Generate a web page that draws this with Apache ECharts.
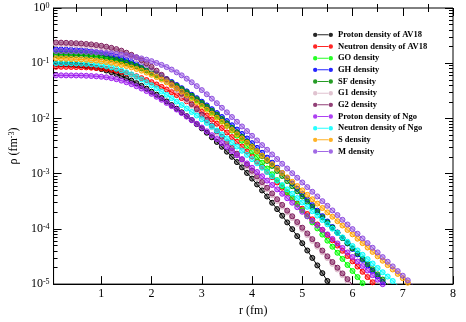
<!DOCTYPE html>
<html>
<head>
<meta charset="utf-8">
<script src="https://cdn.jsdelivr.net/npm/echarts@6/dist/echarts.min.js"></script>
<style>
html, body { margin: 0; padding: 0; background: #fff; }
#chart { width: 466px; height: 322px; }
</style>
</head>
<body>
<div id="chart"></div>
<script>
// radial mesh (fm), one point every 0.1 fm
const radius = [0.1,0.2,0.3,0.4,0.5,0.6,0.7,0.8,0.9,1.0,1.1,1.2,1.3,1.4,1.5,1.6,1.7,1.8,1.9,2.0,
  2.1,2.2,2.3,2.4,2.5,2.6,2.7,2.8,2.9,3.0,3.1,3.2,3.3,3.4,3.5,3.6,3.7,3.8,3.9,4.0,
  4.1,4.2,4.3,4.4,4.5,4.6,4.7,4.8,4.9,5.0,5.1,5.2,5.3,5.4,5.5,5.6,5.7,5.8,5.9,6.0,
  6.1,6.2,6.3,6.4,6.5,6.6,6.7,6.8,6.9,7.0,7.1,7.2];

// densities (fm^-3)
const protonAV18 = [0.0975,0.0970,0.0962,0.0948,0.0931,0.0912,0.0887,0.0859,0.0824,0.0783,
  0.0738,0.0689,0.0637,0.0585,0.0533,0.0483,0.0435,0.0389,0.0346,0.0305,
  0.0269,0.0234,0.0203,0.0175,0.0150,0.0129,0.0110,0.00935,0.00788,0.00661,
  0.00551,0.00456,0.00375,0.00307,0.00250,0.00202,0.00162,0.00130,0.00103,8.13e-4,
  6.38e-4,4.97e-4,3.86e-4,2.97e-4,2.28e-4,1.73e-4,1.31e-4,9.88e-5,7.39e-5,5.50e-5,
  4.06e-5,2.98e-5,2.18e-5,1.58e-5,1.14e-5,8.19e-6];
const neutronAV18 = [0.0861,0.0861,0.0859,0.0857,0.0853,0.0848,0.0841,0.0831,0.0819,0.0805,
  0.0787,0.0763,0.0734,0.0700,0.0662,0.0622,0.0580,0.0537,0.0495,0.0453,
  0.0412,0.0372,0.0334,0.0299,0.0265,0.0234,0.0205,0.0178,0.0154,0.0132,
  0.0113,0.00954,0.00802,0.00671,0.00557,0.00460,0.00378,0.00310,0.00252,0.00205,
  0.00165,0.00133,0.00108,8.64e-4,6.93e-4,5.56e-4,4.46e-4,3.58e-4,2.87e-4,2.31e-4,
  1.86e-4,1.49e-4,1.20e-4,9.63e-5,7.73e-5,6.22e-5,4.99e-5,4.01e-5,3.23e-5,2.59e-5,
  2.08e-5,1.67e-5,1.34e-5,1.08e-5,8.68e-6];
const goDensity = [0.158,0.158,0.158,0.157,0.156,0.154,0.151,0.147,0.143,0.138,
  0.132,0.126,0.119,0.112,0.104,0.0963,0.0887,0.0811,0.0738,0.0667,
  0.0600,0.0537,0.0478,0.0423,0.0373,0.0327,0.0285,0.0246,0.0212,0.0181,
  0.0153,0.0129,0.0108,0.00894,0.00736,0.00602,0.00489,0.00395,0.00317,0.00252,
  0.00200,0.00158,0.00124,9.75e-4,7.62e-4,5.94e-4,4.63e-4,3.60e-4,2.80e-4,2.17e-4,
  1.69e-4,1.31e-4,1.02e-4,7.89e-5,6.12e-5,4.75e-5,3.69e-5,2.86e-5,2.22e-5,1.73e-5,
  1.34e-5,1.04e-5,8.07e-6];
const ghDensity = [0.177,0.177,0.176,0.175,0.174,0.172,0.168,0.164,0.159,0.153,
  0.146,0.139,0.131,0.123,0.114,0.105,0.0969,0.0885,0.0803,0.0724,
  0.0650,0.0581,0.0516,0.0457,0.0403,0.0353,0.0309,0.0268,0.0233,0.0201,
  0.0172,0.0147,0.0125,0.0106,0.00896,0.00752,0.00629,0.00523,0.00433,0.00357,
  0.00293,0.00239,0.00195,0.00158,0.00128,0.00103,8.30e-4,6.65e-4,5.32e-4,4.24e-4,
  3.38e-4,2.69e-4,2.14e-4,1.70e-4,1.36e-4,1.08e-4,8.60e-5,6.84e-5,5.45e-5,4.34e-5,
  3.45e-5,2.75e-5,2.19e-5,1.74e-5,1.39e-5,1.10e-5,8.80e-6];
const sfDensity = [0.141,0.141,0.141,0.140,0.139,0.138,0.136,0.134,0.131,0.128,
  0.124,0.119,0.114,0.108,0.101,0.0949,0.0881,0.0813,0.0745,0.0679,
  0.0614,0.0552,0.0494,0.0439,0.0388,0.0341,0.0298,0.0258,0.0223,0.0191,
  0.0163,0.0138,0.0117,0.00978,0.00815,0.00677,0.00561,0.00463,0.00380,0.00312,
  0.00255,0.00208,0.00170,0.00138,0.00112,9.07e-4,7.34e-4,5.93e-4,4.79e-4,3.86e-4,
  3.11e-4,2.50e-4,2.02e-4,1.62e-4,1.31e-4,1.05e-4,8.48e-5,6.83e-5,5.50e-5,4.43e-5,
  3.57e-5,2.87e-5,2.31e-5,1.86e-5,1.50e-5,1.21e-5,9.74e-6];
const g1Density = [0.220,0.219,0.218,0.216,0.214,0.211,0.207,0.204,0.198,0.193,
  0.185,0.177,0.167,0.157,0.144,0.132,0.119,0.106,0.0923,0.0799,
  0.0682,0.0574,0.0478,0.0395,0.0323,0.0261,0.0212,0.0170,0.0137,0.0109,
  0.00868,0.00689,0.00546,0.00433,0.00343,0.00272,0.00214,0.00169,0.00134,0.00105,
  8.30e-4,6.56e-4,5.16e-4,4.07e-4,3.20e-4,2.53e-4,1.99e-4,1.57e-4,1.24e-4,9.77e-5,
  7.68e-5,6.06e-5,4.77e-5,3.77e-5,2.96e-5,2.33e-5,1.84e-5,1.45e-5,1.14e-5,9.00e-6,
  7.11e-6];
const g2Density = [0.237,0.236,0.234,0.232,0.230,0.227,0.223,0.219,0.213,0.207,
  0.199,0.190,0.180,0.169,0.155,0.142,0.128,0.1135,0.0993,0.0859,
  0.0733,0.0617,0.0514,0.0425,0.0347,0.0281,0.0228,0.0183,0.0147,0.0117,
  0.00933,0.00741,0.00587,0.00466,0.00369,0.00292,0.00230,0.00182,0.00144,0.00113,
  8.93e-4,7.05e-4,5.55e-4,4.38e-4,3.44e-4,2.72e-4,2.14e-4,1.69e-4,1.33e-4,1.05e-4,
  8.26e-5,6.52e-5,5.13e-5,4.05e-5,3.18e-5,2.51e-5,1.98e-5,1.56e-5,1.23e-5,9.68e-6,
  7.64e-6];
const protonNgo = [0.0603,0.0603,0.0602,0.0601,0.0600,0.0598,0.0593,0.0587,0.0579,0.0569,
  0.0556,0.0537,0.0513,0.0484,0.0452,0.0418,0.0383,0.0348,0.0313,0.0279,
  0.0247,0.0218,0.0191,0.0167,0.0145,0.0125,0.0108,0.00931,0.00799,0.00685,
  0.00585,0.00498,0.00424,0.00359,0.00304,0.00257,0.00216,0.00182,0.00153,0.00128,
  0.00107,8.97e-4,7.48e-4,6.24e-4,5.19e-4,4.32e-4,3.59e-4,2.98e-4,2.47e-4,2.04e-4,
  1.69e-4,1.40e-4,1.16e-4,9.60e-5,7.95e-5,6.58e-5,5.45e-5,4.51e-5,3.74e-5,3.09e-5,
  2.56e-5,2.12e-5,1.76e-5,1.45e-5,1.20e-5,9.97e-6];
const neutronNgo = [0.100,0.0999,0.0998,0.0995,0.0991,0.0984,0.0973,0.0957,0.0938,0.0914,
  0.0884,0.0845,0.0797,0.0744,0.0685,0.0625,0.0566,0.0508,0.0452,0.0399,
  0.0350,0.0307,0.0268,0.0233,0.0202,0.0175,0.0151,0.0131,0.0113,0.00968,
  0.00830,0.00710,0.00605,0.00514,0.00435,0.00367,0.00310,0.00260,0.00219,0.00183,
  0.00154,0.00128,0.00107,8.96e-4,7.47e-4,6.23e-4,5.19e-4,4.33e-4,3.61e-4,3.01e-4,
  2.51e-4,2.09e-4,1.74e-4,1.45e-4,1.21e-4,1.01e-4,8.42e-5,7.02e-5,5.85e-5,4.88e-5,
  4.07e-5,3.39e-5,2.83e-5,2.36e-5,1.96e-5,1.64e-5,1.37e-5,1.14e-5,9.50e-6];
const sDensity = [0.122,0.121,0.120,0.119,0.118,0.117,0.115,0.113,0.111,0.108,
  0.105,0.102,0.0977,0.0935,0.0889,0.0839,0.0787,0.0733,0.0676,0.0618,
  0.0561,0.0505,0.0450,0.0399,0.0351,0.0306,0.0265,0.0229,0.0197,0.0168,
  0.0144,0.0122,0.0103,0.00869,0.00733,0.00617,0.00518,0.00434,0.00363,0.00303,
  0.00254,0.00212,0.00177,0.00148,0.00123,0.00103,8.57e-4,7.14e-4,5.96e-4,4.97e-4,
  4.14e-4,3.44e-4,2.87e-4,2.39e-4,1.99e-4,1.66e-4,1.38e-4,1.15e-4,9.57e-5,7.96e-5,
  6.64e-5,5.52e-5,4.60e-5,3.83e-5,3.19e-5,2.65e-5,2.21e-5,1.84e-5,1.53e-5,1.28e-5,
  1.06e-5,8.85e-6];
const mDensity = [0.166,0.166,0.165,0.164,0.164,0.163,0.161,0.160,0.158,0.156,
  0.153,0.151,0.147,0.143,0.139,0.134,0.128,0.122,0.116,0.109,
  0.101,0.0933,0.0851,0.0767,0.0684,0.0603,0.0525,0.0452,0.0385,0.0326,
  0.0274,0.0228,0.0189,0.0156,0.0129,0.0106,0.00871,0.00716,0.00590,0.00485,
  0.00400,0.00329,0.00271,0.00223,0.00184,0.00151,0.00124,0.00102,8.43e-4,6.93e-4,
  5.71e-4,4.70e-4,3.87e-4,3.18e-4,2.62e-4,2.16e-4,1.78e-4,1.46e-4,1.20e-4,9.91e-5,
  8.17e-5,6.71e-5,5.53e-5,4.55e-5,3.75e-5,3.08e-5,2.54e-5,2.09e-5,1.72e-5,1.42e-5,
  1.17e-5,9.59e-6];

const seriesNames = ['Proton density of AV18', 'Neutron density of AV18', 'GO density', 'GH density',
  'SF density', 'G1 density', 'G2 density', 'Proton density of Ngo', 'Neutron density of Ngo',
  'S density', 'M density'];
const seriesValues = [protonAV18, neutronAV18, goDensity, ghDensity, sfDensity, g1Density,
  g2Density, protonNgo, neutronNgo, sDensity, mDensity];
const seriesColors = ['#000000', '#ff0000', '#00ff00', '#0000ff', '#008b00', '#dbb8c8',
  '#7f1f5f', '#a020f0', '#00ffff', '#ffa500', '#9050e0'];

const xMajor = [1, 2, 3, 4, 5, 6, 7, 8];
const xMinor = [0.5, 1.5, 2.5, 3.5, 4.5, 5.5, 6.5, 7.5];

const serif = 'Liberation Serif';

// log minor ticks (2..9 in every decade), in exponent units
let yMinor = [];
for (let e = -5; e < 0; e++) {
    for (let k = 2; k <= 9; k++) yMinor.push(e + Math.log10(k));
}

function fade(hex, a) {
    let n = parseInt(hex.slice(1), 16);
    return 'rgba(' + (n >> 16) + ',' + ((n >> 8) & 255) + ',' + (n & 255) + ',' + a + ')';
}

// thin line with a small dot on each end, like the grace legend
const legendIcon = 'path://M0,2.2a2.2,2.2 0 1,0 4.4,0a2.2,2.2 0 1,0 -4.4,0Z'
    + 'M4,1.7L16,1.7L16,2.7L4,2.7Z'
    + 'M15.6,2.2a2.2,2.2 0 1,0 4.4,0a2.2,2.2 0 1,0 -4.4,0Z';

const black = { color: '#000', width: 1 };

function tickAxis(pos, vals, len, extra) {
    return Object.assign({
        position: pos,
        axisLine: { show: false },
        axisTick: { inside: true, length: len, customValues: vals, lineStyle: black },
        axisLabel: { show: false },
        splitLine: { show: false }
    }, extra);
}

let option = {
    animation: false,
    backgroundColor: '#fff',
    grid: {
        left: 42, right: 13, top: 8, bottom: 28,
        show: true, borderColor: '#000', borderWidth: 1
    },
    legend: {
        orient: 'vertical',
        left: 308,
        top: 24,
        itemWidth: 20,
        itemHeight: 4.4,
        itemGap: 0,
        icon: legendIcon,
        symbolKeepAspect: false,
        selectedMode: false,
        textStyle: { fontFamily: serif, fontSize: 8.5, fontWeight: 'bold', color: '#000', lineHeight: 11.67 },
        data: seriesNames.map((n, i) => ({
            name: n,
            itemStyle: { color: seriesColors[i], borderWidth: 0, opacity: 0.85 }
        }))
    },
    xAxis: [
        {
            type: 'value', min: 0.05, max: 8, position: 'bottom',
            name: 'r (fm)', nameLocation: 'middle', nameGap: 15,
            nameTextStyle: { fontFamily: serif, fontSize: 12, color: '#000' },
            axisLine: { show: true, onZero: false, lineStyle: black },
            axisTick: { inside: true, length: 8, customValues: xMajor, lineStyle: black },
            axisLabel: { customValues: xMajor, fontFamily: serif, fontSize: 12, color: '#000', margin: 4 },
            splitLine: { show: false }
        },
        tickAxis('bottom', xMinor, 4, { type: 'value', min: 0.05, max: 8 }),
        tickAxis('top', xMajor, 8, { type: 'value', min: 0.05, max: 8 }),
        tickAxis('top', xMinor, 4, { type: 'value', min: 0.05, max: 8 })
    ],
    yAxis: [
        {
            type: 'log', logBase: 10, min: 1e-5, max: 1, position: 'left',
            name: '{a|ρ (fm}{s|-3}{a|)}', nameLocation: 'middle', nameGap: 24,
            nameTextStyle: {
                color: '#000',
                rich: {
                    a: { fontFamily: serif, fontSize: 12, color: '#000' },
                    s: { fontFamily: serif, fontSize: 8, color: '#000', verticalAlign: 'top' }
                }
            },
            axisLine: { show: true, onZero: false, lineStyle: black },
            axisTick: { inside: true, length: 8, lineStyle: black },
            axisLabel: {
                margin: 4,
                formatter: v => '{b|10}{s|' + Math.round(Math.log10(v)) + '}',
                rich: {
                    b: { fontFamily: serif, fontSize: 12, color: '#000' },
                    s: { fontFamily: serif, fontSize: 8, color: '#000', verticalAlign: 'top' }
                }
            },
            splitLine: { show: false },
            minorTick: { show: false }
        },
        tickAxis('left', yMinor, 4, { type: 'value', min: -5, max: 0 }),
        {
            type: 'log', logBase: 10, min: 1e-5, max: 1, position: 'right',
            axisLine: { show: false },
            axisTick: { inside: true, length: 8, lineStyle: black },
            axisLabel: { show: false },
            splitLine: { show: false }
        },
        tickAxis('right', yMinor, 4, { type: 'value', min: -5, max: 0 })
    ],
    series: seriesValues.map((vals, i) => ({
        name: seriesNames[i],
        type: 'line',
        xAxisIndex: 0,
        yAxisIndex: 0,
        data: vals.map((v, j) => [radius[j], v]),
        symbol: 'circle',
        symbolSize: 5,
        showAllSymbol: true,
        lineStyle: { color: seriesColors[i], width: 1 },
        itemStyle: { color: fade(seriesColors[i], 0.45), borderColor: seriesColors[i], borderWidth: 1 },
        emphasis: { disabled: true },
        clip: true
    }))
};

let chart = echarts.init(document.getElementById('chart'), null, { renderer: 'canvas' });
chart.setOption(option);
</script>
</body>
</html>
